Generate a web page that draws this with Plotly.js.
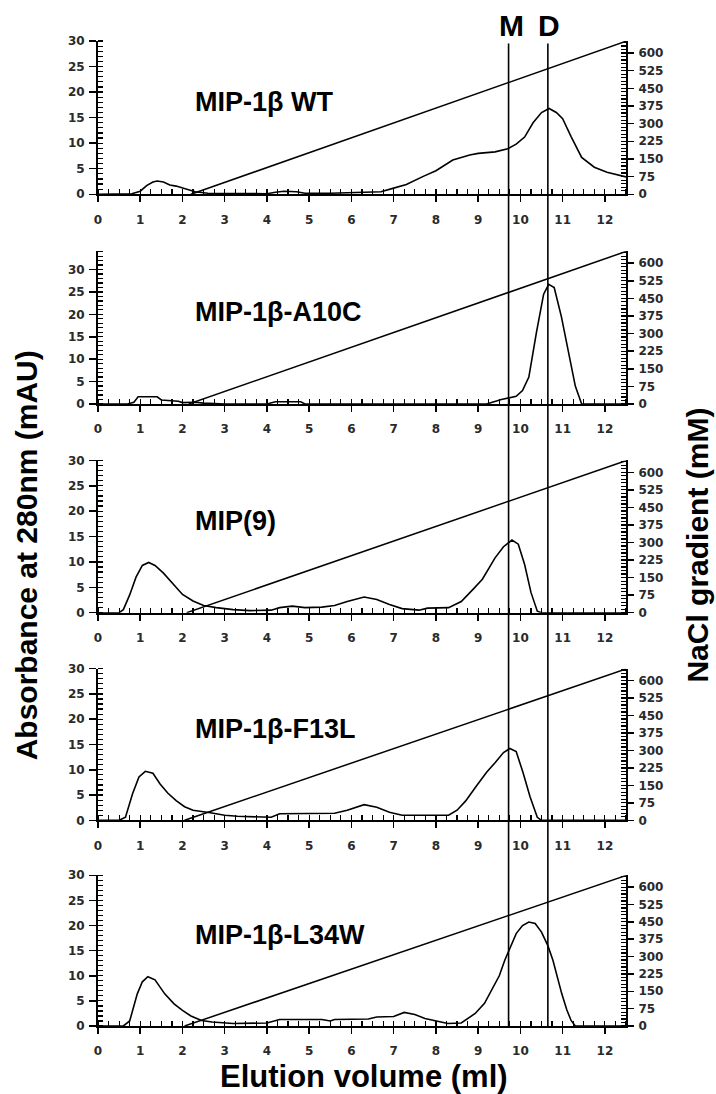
<!DOCTYPE html>
<html>
<head>
<meta charset="utf-8">
<script src="https://cdn.plot.ly/plotly-3.0.1.min.js"></script>
<style>html,body{margin:0;padding:0;background:#fff;}#chart{width:716px;height:1094px;}</style>
</head>
<body>
<div id="chart"></div>
<script>
// ---- data ----
const panelNames = ["MIP-1β WT", "MIP-1β-A10C", "MIP(9)", "MIP-1β-F13L", "MIP-1β-L34W"];

const WT_vol = [0, 0.7, 0.8, 1.0, 1.15, 1.3, 1.4, 1.55, 1.7, 1.85, 2.0, 2.15, 2.3, 2.6, 3.0, 3.5, 4.0, 4.2, 4.4, 4.7, 4.9, 5.5, 6.0, 6.3, 6.7, 7.0, 7.3, 7.7, 8.0, 8.4, 8.8, 9.0, 9.4, 9.7, 9.9, 10.1, 10.3, 10.5, 10.68, 10.85, 11.0, 11.2, 11.45, 11.75, 12.05, 12.5];
const WT_abs = [0, 0, 0.1, 0.6, 1.7, 2.4, 2.6, 2.4, 1.8, 1.6, 1.2, 0.9, 0.5, 0.2, 0.2, 0.1, 0.1, 0.4, 0.6, 0.5, 0.2, 0.2, 0.3, 0.5, 0.5, 1.2, 1.9, 3.5, 4.6, 6.7, 7.7, 8.0, 8.3, 8.9, 9.8, 11.2, 14.0, 16.0, 16.8, 16.0, 14.8, 11.3, 7.2, 5.3, 4.3, 3.4];

const A10C_vol = [0, 0.7, 0.85, 0.95, 1.4, 1.5, 1.9, 2.0, 2.3, 2.5, 3.0, 4.0, 4.2, 4.8, 4.9, 9.2, 9.55, 9.9, 10.05, 10.2, 10.38, 10.55, 10.67, 10.8, 10.97, 11.15, 11.3, 11.45, 12.5];
const A10C_abs = [0, 0, 0.4, 1.6, 1.6, 0.9, 0.6, 0.3, 0.4, 0.2, 0, 0, 0.5, 0.5, 0, 0, 1.0, 1.7, 3.0, 6.0, 16.0, 24.5, 26.7, 26.0, 19.5, 11.0, 4.0, 0, 0];

const MIP9_vol = [0, 0.5, 0.6, 0.75, 0.9, 1.05, 1.2, 1.35, 1.55, 1.8, 2.0, 2.25, 2.5, 2.8, 3.2, 3.6, 4.1, 4.3, 4.6, 4.9, 5.3, 5.6, 5.9, 6.3, 6.6, 6.9, 7.2, 7.6, 7.8, 8.3, 8.6, 8.9, 9.1, 9.4, 9.6, 9.8, 9.95, 10.1, 10.25, 10.4, 10.5, 12.5];
const MIP9_abs = [0, 0, 0.6, 3.5, 7.0, 9.3, 9.9, 9.3, 7.8, 5.5, 3.6, 2.3, 1.4, 1.0, 0.6, 0.4, 0.5, 1.0, 1.3, 1.0, 1.1, 1.4, 2.2, 3.1, 2.6, 1.6, 0.8, 0.5, 0.9, 1.0, 2.2, 4.8, 6.6, 10.8, 13.0, 14.3, 13.5, 9.5, 4.0, 0.3, 0, 0];

const F13L_vol = [0, 0.5, 0.65, 0.82, 0.97, 1.12, 1.3, 1.47, 1.65, 1.85, 2.05, 2.25, 2.66, 3.0, 3.3, 3.7, 4.1, 4.3, 4.6, 5.6, 5.9, 6.3, 6.6, 6.9, 7.2, 8.3, 8.5, 8.7, 8.95, 9.2, 9.4, 9.6, 9.75, 9.9, 10.06, 10.23, 10.4, 10.5, 12.5];
const F13L_abs = [0, 0, 0.6, 5.3, 8.6, 9.7, 9.3, 7.2, 5.4, 3.9, 2.7, 2.0, 1.5, 1.0, 0.8, 0.7, 0.6, 1.3, 1.3, 1.4, 2.0, 3.1, 2.6, 1.6, 1.0, 1.0, 2.0, 3.8, 6.7, 9.5, 11.4, 13.4, 14.2, 13.6, 9.5, 4.6, 0.6, 0, 0];

const L34W_vol = [0, 0.6, 0.75, 0.93, 1.05, 1.18, 1.35, 1.58, 1.8, 2.0, 2.2, 2.45, 2.7, 3.2, 4.0, 4.3, 5.3, 5.5, 5.6, 6.4, 6.6, 7.0, 7.25, 7.5, 7.74, 8.0, 8.28, 8.6, 8.93, 9.15, 9.36, 9.5, 9.63, 9.75, 9.9, 10.05, 10.2, 10.35, 10.5, 10.65, 10.77, 10.98, 11.1, 11.2, 11.3, 12.5];
const L34W_abs = [0, 0, 1.0, 6.4, 8.8, 9.8, 9.2, 6.4, 4.4, 3.1, 2.0, 1.1, 0.8, 0.5, 0.6, 1.3, 1.3, 1.0, 1.3, 1.4, 1.8, 1.9, 2.7, 2.3, 1.5, 1.0, 0.5, 0.6, 2.5, 4.5, 7.8, 10.0, 13.1, 15.5, 18.4, 20.0, 20.7, 20.4, 18.7, 16.0, 13.1, 6.4, 3.2, 1.1, 0, 0];

// NaCl gradient: start volume per panel, end volume, concentration (mM)
const gradientStartVol = [2.2, 2.15, 2.1, 2.05, 2.05];
const gradientEndVol = 12.5;
const gradient_mM = [0, 650];

// Monomer / dimer markers (elution volume, ml)
const markerLabels = ["M", "D"];
const markerVol = [9.72, 10.65];

// tick labels
const absTicks = [0, 5, 10, 15, 20, 25, 30];
const naclTicks = [0, 75, 150, 225, 300, 375, 450, 525, 600];
const volTicks = [0, 1, 2, 3, 4, 5, 6, 7, 8, 9, 10, 11, 12];

const absVol = [WT_vol, A10C_vol, MIP9_vol, F13L_vol, L34W_vol];
const absVal = [WT_abs, A10C_abs, MIP9_abs, F13L_abs, L34W_abs];

// ---- layout geometry ----
const domains = [[0.8444, 1.0], [0.6315, 0.7866], [0.4196, 0.5742], [0.2088, 0.3628], [0.0, 0.1530]];
const absRanges = [[0, 30], [0, 34.1], [0, 30], [0, 30], [0, 30]];
const naclRange = [0, 651];
const volRange = [0, 12.5];

const tickFont = {family: "DejaVu Sans", size: 12, color: "#2a2a2a", weight: "bold"};
const titleFont = {family: "Liberation Sans, Arial", size: 27, color: "#000", weight: "bold"};

const traces = [];
const layout = {
  width: 716, height: 1094,
  margin: {l: 97.7, r: 90.3, t: 40.5, b: 68.3},
  paper_bgcolor: "#fff", plot_bgcolor: "rgba(0,0,0,0)",
  showlegend: false,
  shapes: [], annotations: []
};

function tickOnly(extra) {
  return Object.assign({showgrid: false, zeroline: false, showline: false, showticklabels: false,
    ticks: "inside", ticklen: 5, tickwidth: 1.5, tickcolor: "#000", fixedrange: true}, extra);
}

for (let i = 0; i < 5; i++) {
  const n = i + 1;
  const xa = n === 1 ? "x" : "x" + n;
  const ya = n === 1 ? "y" : "y" + n;
  const yr = "y" + (n + 5);
  const xKey = n === 1 ? "xaxis" : "xaxis" + n;
  const yKey = n === 1 ? "yaxis" : "yaxis" + n;
  const yrKey = "yaxis" + (n + 5);

  traces.push({x: absVol[i], y: absVal[i], xaxis: xa, yaxis: ya, type: "scatter", mode: "lines",
    line: {color: "#000", width: 1.6}, hoverinfo: "skip", cliponaxis: false});
  traces.push({x: [gradientStartVol[i], gradientEndVol], y: gradient_mM, xaxis: xa, yaxis: yr, type: "scatter", mode: "lines",
    line: {color: "#000", width: 1.5}, hoverinfo: "skip", cliponaxis: false});

  layout[xKey] = {
    domain: [0, 1], range: volRange, anchor: ya, showgrid: false, zeroline: false,
    showline: true, linecolor: "#000", linewidth: 2,
    tickmode: "array", tickvals: volTicks, ticktext: volTicks.map(String),
    ticks: "outside", ticklen: 6, tickwidth: 1.5, tickcolor: "#000",
    minor: {dtick: 0.25, ticks: "inside", ticklen: 5, tickwidth: 1.2, tickcolor: "#000", showgrid: false},
    tickfont: tickFont, ticklabelstandoff: 7, fixedrange: true
  };
  layout[yKey] = {
    domain: domains[i], range: absRanges[i], anchor: xa, showgrid: false, zeroline: false,
    showline: true, linecolor: "#000", linewidth: 2,
    tickmode: "array", tickvals: absTicks, ticktext: absTicks.map(String),
    ticks: "outside", ticklen: 7, tickwidth: 1.5, tickcolor: "#000",
    minor: {dtick: 1, ticks: "inside", ticklen: 5, tickwidth: 1.2, tickcolor: "#000", showgrid: false},
    tickfont: tickFont, ticklabelstandoff: 2, fixedrange: true
  };
  layout[yrKey] = {
    domain: domains[i], range: naclRange, anchor: xa, overlaying: ya, side: "right",
    showgrid: false, zeroline: false, showline: true, linecolor: "#000", linewidth: 2,
    tickmode: "array", tickvals: naclTicks, ticktext: naclTicks.map(String),
    ticks: "outside", ticklen: 6, tickwidth: 1.5, tickcolor: "#000",
    minor: {dtick: 15, ticks: "inside", ticklen: 5, tickwidth: 1.2, tickcolor: "#000", showgrid: false},
    tickfont: tickFont, ticklabelstandoff: 2, fixedrange: true
  };

  // extra tick-only axes so the major ticks cross the axis lines
  layout["xaxis" + (n + 5)] = tickOnly({domain: [0, 1], range: volRange, anchor: ya, overlaying: xa,
    side: "bottom", tickmode: "array", tickvals: volTicks});
  layout["yaxis" + (n + 10)] = tickOnly({domain: domains[i], range: absRanges[i], anchor: xa, overlaying: ya,
    side: "left", tickmode: "array", tickvals: absTicks});
  layout["yaxis" + (n + 15)] = tickOnly({domain: domains[i], range: naclRange, anchor: xa, overlaying: ya,
    side: "right", tickmode: "array", tickvals: naclTicks});

  layout.annotations.push({text: panelNames[i], xref: xa, yref: ya + " domain", x: 2.24, y: 0.605,
    xanchor: "left", yanchor: "middle", showarrow: false, font: titleFont});
}

// M / D vertical lines spanning all panels
for (let k = 0; k < markerVol.length; k++) {
  layout.shapes.push({type: "line", xref: "x", yref: "paper", x0: markerVol[k], x1: markerVol[k], y0: 0, y1: 0.9975,
    line: {color: "#000", width: 1.6}});
  layout.annotations.push({text: markerLabels[k], xref: "x", yref: "paper", x: markerVol[k] + (k === 0 ? 0.08 : 0.02), y: 1.016,
    xanchor: "center", yanchor: "middle", showarrow: false,
    font: {family: "Liberation Sans, Arial", size: 30, color: "#000", weight: "bold"}});
}

// axis titles
layout.annotations.push({text: "Absorbance at 280nm (mAU)", xref: "paper", yref: "paper", x: -0.136, y: 0.478,
  textangle: -90, xanchor: "center", yanchor: "middle", showarrow: false,
  font: {family: "Liberation Sans, Arial", size: 30, color: "#000", weight: "bold"}});
layout.annotations.push({text: "NaCl gradient (mM)", xref: "paper", yref: "paper", x: 1.135, y: 0.488,
  textangle: -90, xanchor: "center", yanchor: "middle", showarrow: false,
  font: {family: "Liberation Sans, Arial", size: 30, color: "#000", weight: "bold"}});
layout.annotations.push({text: "Elution volume (ml)", xref: "paper", yref: "paper", x: 0.504, y: -0.0325,
  xanchor: "center", yanchor: "top", borderpad: 0, showarrow: false,
  font: {family: "Liberation Sans, Arial", size: 31, color: "#000", weight: "bold"}});

Plotly.newPlot("chart", traces, layout, {staticPlot: true, displayModeBar: false});
</script>
</body>
</html>
